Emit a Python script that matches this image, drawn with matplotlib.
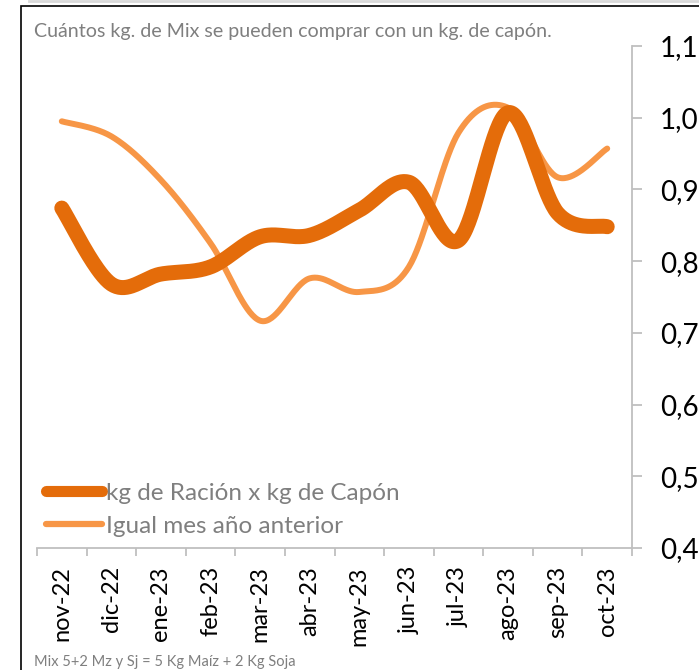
import numpy as np
import matplotlib.pyplot as plt
from matplotlib.lines import Line2D
from matplotlib.patches import Rectangle

months = ["nov-22", "dic-22", "ene-23", "feb-23", "mar-23", "abr-23",
          "may-23", "jun-23", "jul-23", "ago-23", "sep-23", "oct-23"]
racion = [0.874, 0.768, 0.782, 0.792, 0.834, 0.836,
          0.871, 0.910, 0.829, 1.007, 0.867, 0.848]
anterior = [0.995, 0.974, 0.913, 0.825, 0.717, 0.776,
            0.757, 0.792, 0.979, 1.014, 0.917, 0.957]
yticks = [0.4, 0.5, 0.6, 0.7, 0.8, 0.9, 1.0, 1.1]

title = "Cuántos kg. de Mix se pueden comprar con un kg. de capón."
note = "Mix 5+2 Mz y Sj = 5 Kg Maíz + 2 Kg Soja"

dark = "#E46C0A"
light = "#F79646"
gray_txt = "#7F7F7F"
gray_ax = "#BFBFBF"

plt.rcParams['font.family'] = ['Lato', 'DejaVu Sans']


def smooth(vals, n=40):
    # excel-like smoothed line: bezier segments through each point
    p = np.column_stack([np.arange(len(vals)), vals]).astype(float)
    p = np.vstack([p[0], p, p[-1]])
    out = []
    t = np.linspace(0, 1, n)[:, None]
    for i in range(1, len(p) - 2):
        p0, p1, p2, p3 = p[i - 1], p[i], p[i + 1], p[i + 2]
        c1 = p1 + (p2 - p0) / 6
        c2 = p2 - (p3 - p1) / 6
        seg = ((1 - t) ** 3) * p1 + 3 * ((1 - t) ** 2) * t * c1 \
            + 3 * (1 - t) * t ** 2 * c2 + t ** 3 * p2
        out.append(seg)
    out = np.vstack(out)
    return out[:, 0], out[:, 1]


W, H = 699, 670
fig = plt.figure(figsize=(W / 100, H / 100), dpi=100)
ax = fig.add_axes([37 / W, 1 - 548 / H, (632 - 37) / W, (548 - 46) / H])

x2, y2 = smooth(anterior)
x1, y1 = smooth(racion)
ax.plot(x2, y2, color=light, lw=4.3, solid_capstyle='round')
ax.plot(x1, y1, color=dark, lw=10.8, solid_capstyle='round')

ax.set_xlim(-0.5, len(months) - 0.5)
ax.set_ylim(0.4, 1.1)

for s in ['top', 'left']:
    ax.spines[s].set_visible(False)
for s in ['bottom', 'right']:
    ax.spines[s].set_color(gray_ax)
    ax.spines[s].set_linewidth(1.3)

ax.set_xticks(range(len(months)))
ax.set_xticklabels(months, rotation=90, fontsize=17, color='black')
ax.set_xticks(np.arange(-0.5, len(months)), minor=True)
ax.tick_params(axis='x', which='major', length=0, pad=13)
ax.tick_params(axis='x', which='minor', length=6, color=gray_ax, width=1.3)

ax.yaxis.tick_right()
ax.set_yticks(yticks)
ax.set_yticklabels([f"{v:.1f}".replace('.', ',') for v in yticks],
                   fontsize=20, color='black')
ax.tick_params(axis='y', length=7, color=gray_ax, width=1.3, pad=13)

handles = [Line2D([], [], color=dark, lw=8, solid_capstyle='round'),
           Line2D([], [], color=light, lw=4.5, solid_capstyle='round')]
leg = ax.legend(handles, ["kg de Ración x kg de Capón", "Igual mes año anterior"],
                loc='lower left', bbox_to_anchor=(46 / W, 1 - 537 / H),
                bbox_transform=fig.transFigure, frameon=False, fontsize=17.5,
                handlelength=2.3, handletextpad=0.17, labelspacing=0.5,
                borderpad=0, borderaxespad=0)
for t in leg.get_texts():
    t.set_color(gray_txt)

fig.text(34 / W, 1 - 37 / H, title, fontsize=14.1, color=gray_txt,
         ha='left', va='baseline')
fig.text(34 / W, 1 - 669 / H, note, fontsize=10.5, color=gray_txt,
         ha='left', va='bottom')

fig.patches.append(Rectangle((21 / W, -0.1), 1.2, 1.1 - 6 / H,
                             transform=fig.transFigure, fill=False,
                             ec='black', lw=1.2))
fig.lines.append(Line2D([29 / W, 1], [1 - 1 / H, 1 - 1 / H],
                        transform=fig.transFigure, color='#D9D9D9', lw=2))

fig.savefig("out.png", dpi=100)
